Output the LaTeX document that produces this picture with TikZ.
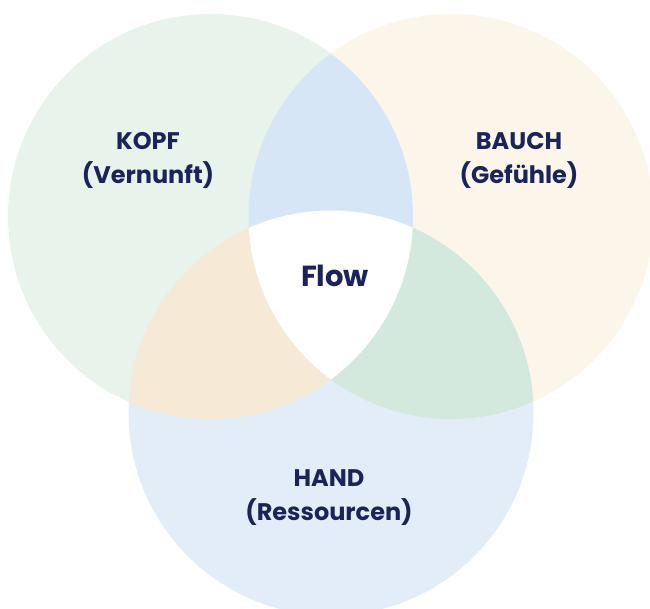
\documentclass[tikz,border=0pt]{standalone}
\usepackage{fontspec}
\setmainfont{Poppins}
\usepackage{xcolor}
\definecolor{kopfgreen}{HTML}{E8F3EC}
\definecolor{bauchcream}{HTML}{FBF5EA}
\definecolor{handblue}{HTML}{E3EDF8}
\definecolor{kbblue}{HTML}{D7E6F6}
\definecolor{khpeach}{HTML}{F6EAD6}
\definecolor{bhgreen}{HTML}{D4E9DD}
\definecolor{navy}{HTML}{1B2459}
\tikzstyle{setname} = [font=\bfseries\fontsize{24}{34}\selectfont, text=navy, align=center]
\tikzstyle{centername} = [font=\bfseries\fontsize{29}{34}\selectfont, text=navy]

\begin{document}
\begin{tikzpicture}[x=1pt, y=-1pt]
\useasboundingbox (0,0) rectangle (650,608);

\coordinate (kopf) at (210.5,216.5);
\coordinate (bauch) at (451,216.5);
\coordinate (hand) at (331,413);

% circles
\fill[kopfgreen] (kopf) circle (202.5pt);
\fill[bauchcream] (bauch) circle (202.5pt);
\fill[handblue] (hand) circle (202.5pt);

% overlaps
\begin{scope}
\clip (kopf) circle (202.5pt);
\fill[kbblue] (bauch) circle (202.5pt);
\fill[khpeach] (hand) circle (202.5pt);
\end{scope}
\begin{scope}
\clip (bauch) circle (202.5pt);
\fill[bhgreen] (hand) circle (202.5pt);
\end{scope}
\begin{scope}
\clip (kopf) circle (202.5pt);
\clip (bauch) circle (202.5pt);
\fill[white] (hand) circle (202.5pt);
\end{scope}

% labels
\node (kopf-text) [setname] at (148,160) {KOPF\\(Vernunft)};
\node (bauch-text) [setname] at (519,160) {BAUCH\\(Gefühle)};
\node (hand-text) [setname] at (329,498) {HAND\\(Ressourcen)};
\node (flow-text) [centername] at (335,276) {Flow};

\end{tikzpicture}
\end{document}
